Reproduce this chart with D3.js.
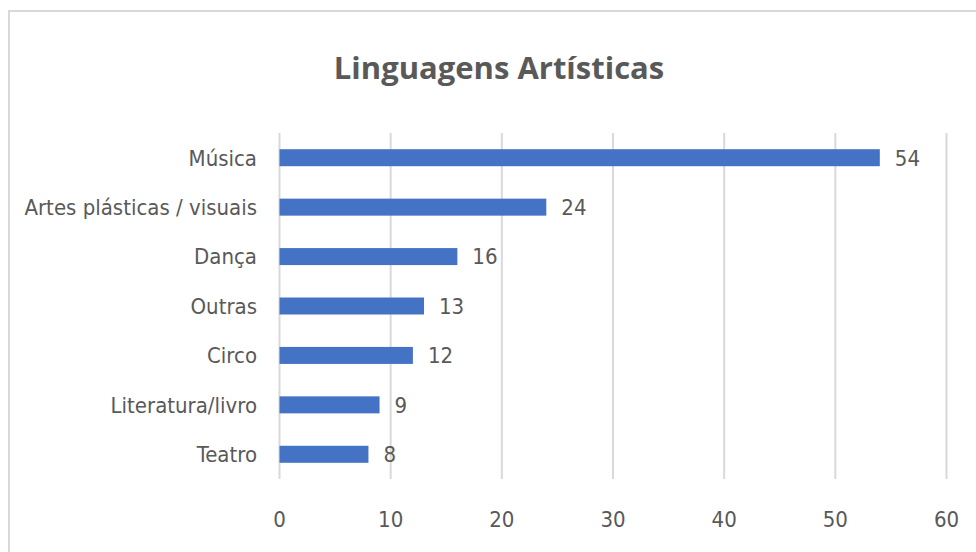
<!DOCTYPE html>
<html>
<head>
<meta charset="utf-8">
<script src="https://cdn.jsdelivr.net/npm/d3@7"></script>
<style>
  html, body { margin: 0; padding: 0; background: #fff; }
  svg { display: block; }
  text { font-family: "Liberation Sans Narrow", "DejaVu Sans Condensed", "Open Sans", sans-serif; fill: #595959; }
</style>
</head>
<body>
<svg id="chart" width="976" height="552"></svg>
<script>
const categories = ['Música', 'Artes plásticas / visuais', 'Dança', 'Outras', 'Circo', 'Literatura/livro', 'Teatro'];
const values = [54, 24, 16, 13, 12, 9, 8];
const xTicks = [0, 10, 20, 30, 40, 50, 60];
const title = 'Linguagens Artísticas';

const svg = d3.select('#chart');
const width = 976;
const height = 552;

// chart frame
svg.append('rect')
  .attr('x', 9).attr('y', 11)
  .attr('width', width + 20).attr('height', height + 20)
  .attr('fill', '#fff')
  .attr('stroke', '#d9d9d9')
  .attr('stroke-width', 2);

svg.append('text')
  .attr('x', 499).attr('y', 79)
  .attr('text-anchor', 'middle')
  .style('font-family', '"Open Sans", sans-serif')
  .style('font-weight', 700)
  .style('font-size', '31px')
  .text(title);

const x = d3.scaleLinear().domain([0, 60]).range([279.5, 946.5]);
const y = d3.scaleBand().domain(categories).range([133, 479]).paddingInner(0.656).paddingOuter(0.328);

// gridlines
svg.append('g')
  .selectAll('line')
  .data(xTicks)
  .join('line')
  .attr('x1', (d) => x(d)).attr('x2', (d) => x(d))
  .attr('y1', 133).attr('y2', 479)
  .attr('stroke', '#d9d9d9')
  .attr('stroke-width', 2);

// x tick labels
svg.append('g')
  .selectAll('text')
  .data(xTicks)
  .join('text')
  .attr('x', (d) => x(d))
  .attr('y', 527)
  .attr('text-anchor', 'middle')
  .style('font-size', '22px')
  .text((d) => d);

// bars
svg.append('g')
  .selectAll('rect')
  .data(values)
  .join('rect')
  .attr('x', x(0))
  .attr('y', (d, i) => y(categories[i]))
  .attr('width', (d) => x(d) - x(0))
  .attr('height', y.bandwidth())
  .attr('fill', '#4472c4');

// value labels
svg.append('g')
  .selectAll('text')
  .data(values)
  .join('text')
  .attr('x', (d) => x(d) + 15)
  .attr('y', (d, i) => y(categories[i]) + y.bandwidth() / 2)
  .attr('dy', '0.36em')
  .style('font-size', '22px')
  .text((d) => d);

// category labels
svg.append('g')
  .selectAll('text')
  .data(categories)
  .join('text')
  .attr('x', 257)
  .attr('y', (d) => y(d) + y.bandwidth() / 2)
  .attr('dy', '0.36em')
  .attr('text-anchor', 'end')
  .style('font-size', '22px')
  .text((d) => d);
</script>
</body>
</html>
